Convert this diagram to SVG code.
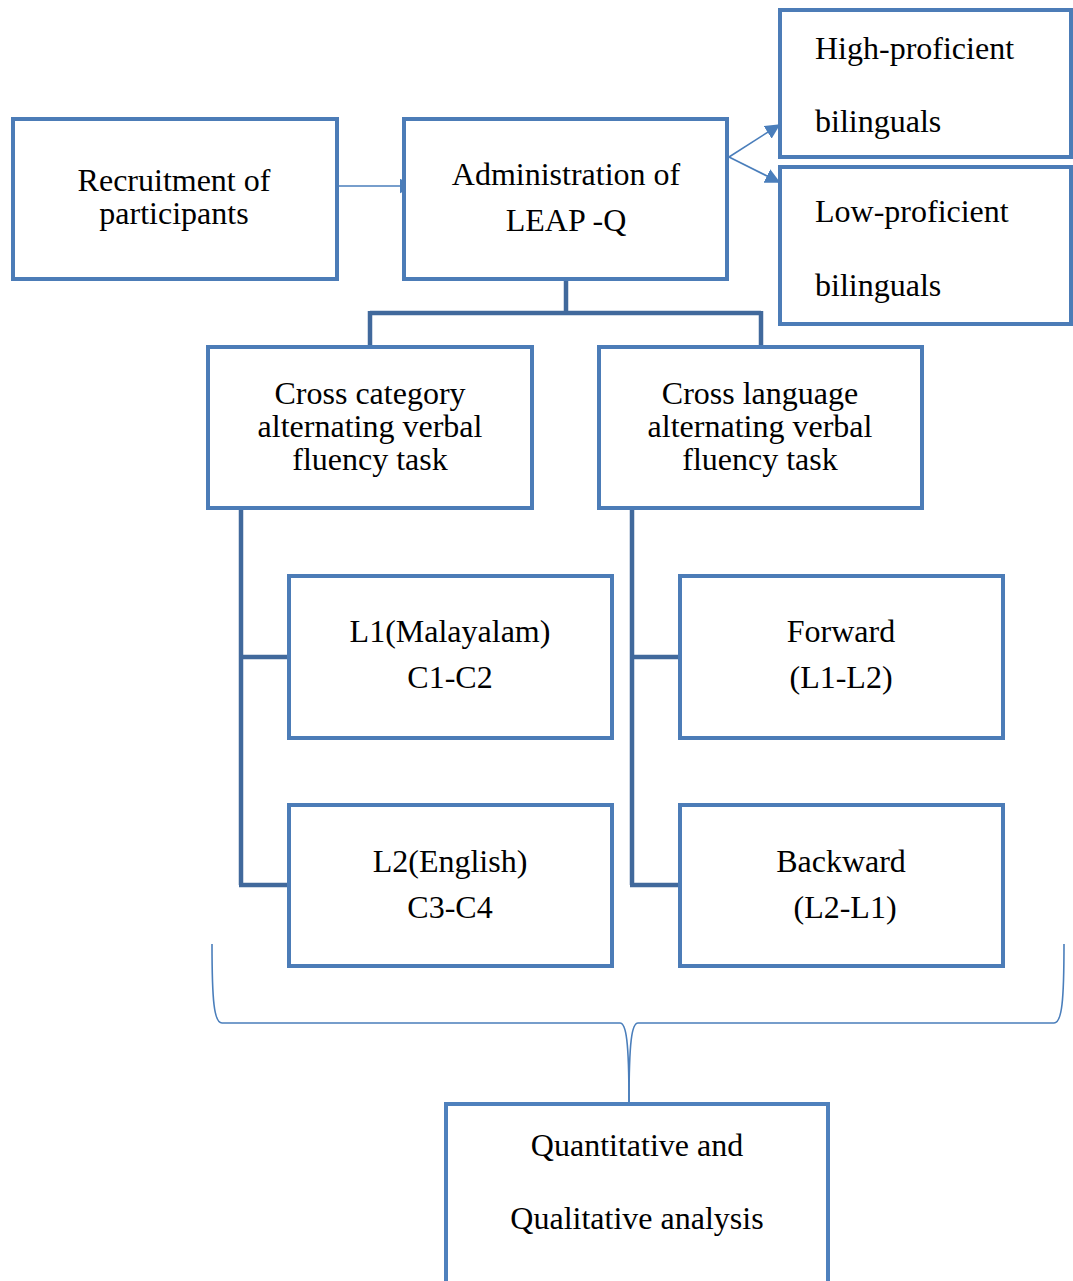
<svg xmlns="http://www.w3.org/2000/svg" width="1073" height="1281" viewBox="0 0 1073 1281">
<defs>
<marker id="ah2" viewBox="0 0 10 10" refX="9" refY="5" markerWidth="15" markerHeight="15" markerUnits="userSpaceOnUse" orient="auto"><path d="M0,0 L10,5 L0,10 z" fill="#4a7ebb"/></marker>
</defs>
<style>
.box{fill:#fff;stroke:#4c7cb7;stroke-width:4}
.t{font-family:"Liberation Serif","Times New Roman",serif;font-size:32px;fill:#000}
.c{text-anchor:middle}
.tree{fill:none;stroke:#41699c;stroke-width:4.5}
.arr{fill:none;stroke:#4a7ebb;stroke-width:1.6}
.brace{fill:none;stroke:#4a7ebb;stroke-width:1.6}
</style>
<rect width="1073" height="1281" fill="#fff"/>
<g id="connectors">
<path class="tree" d="M566,279 V313 M370,313 H761 M370,311 V347 M761,311 V347"/>
<path class="tree" d="M241,508 V885 M239,657 H289 M239,885 H289"/>
<path class="tree" d="M632,508 V885 M630,657 H680 M630,885 H680"/>
<path class="arr" d="M338,186 H413" marker-end="url(#ah2)"/>
<path class="arr" d="M729,157 L779,125" marker-end="url(#ah2)"/>
<path class="arr" d="M729,157 L779,182" marker-end="url(#ah2)"/>
<path class="brace" d="M212,944 C212,1000 214,1023 222,1023 L620,1023 C626,1023 629,1040 629,1104"/>
<path class="brace" d="M1064,944 C1064,1000 1062,1023 1054,1023 L638,1023 C632,1023 629,1040 629,1104"/>
</g>
<g id="recruitment">
<rect class="box" x="13" y="119" width="324" height="160"/>
<text class="t c" x="174" y="191">Recruitment of</text>
<text class="t c" x="174" y="224">participants</text>
</g>
<g id="administration">
<rect class="box" x="404" y="119" width="323" height="160"/>
<text class="t c" x="566" y="185">Administration of</text>
<text class="t c" x="566" y="231">LEAP -Q</text>
</g>
<g id="high">
<rect class="box" x="780" y="10" width="291" height="147"/>
<text class="t" x="815" y="59">High-proficient</text>
<text class="t" x="815" y="132">bilinguals</text>
</g>
<g id="low">
<rect class="box" x="780" y="167" width="291" height="157"/>
<text class="t" x="815" y="222">Low-proficient</text>
<text class="t" x="815" y="296">bilinguals</text>
</g>
<g id="crosscat">
<rect class="box" x="208" y="347" width="324" height="161"/>
<text class="t c" x="370" y="404">Cross category</text>
<text class="t c" x="370" y="437">alternating verbal</text>
<text class="t c" x="370" y="470">fluency task</text>
</g>
<g id="crosslang">
<rect class="box" x="599" y="347" width="323" height="161"/>
<text class="t c" x="760" y="404">Cross language</text>
<text class="t c" x="760" y="437">alternating verbal</text>
<text class="t c" x="760" y="470">fluency task</text>
</g>
<g id="l1">
<rect class="box" x="289" y="576" width="323" height="162"/>
<text class="t c" x="450" y="642">L1(Malayalam)</text>
<text class="t c" x="450" y="688">C1-C2</text>
</g>
<g id="forward">
<rect class="box" x="680" y="576" width="323" height="162"/>
<text class="t c" x="841" y="642">Forward</text>
<text class="t c" x="841" y="688">(L1-L2)</text>
</g>
<g id="l2">
<rect class="box" x="289" y="805" width="323" height="161"/>
<text class="t c" x="450" y="872">L2(English)</text>
<text class="t c" x="450" y="918">C3-C4</text>
</g>
<g id="backward">
<rect class="box" x="680" y="805" width="323" height="161"/>
<text class="t c" x="841" y="872">Backward</text>
<text class="t c" x="845" y="918">(L2-L1)</text>
</g>
<g id="analysis">
<rect class="box" x="446" y="1104" width="382" height="190" style="stroke:#4f81bd"/>
<text class="t c" x="637" y="1156">Quantitative and</text>
<text class="t c" x="637" y="1229">Qualitative analysis</text>
</g>
</svg>
